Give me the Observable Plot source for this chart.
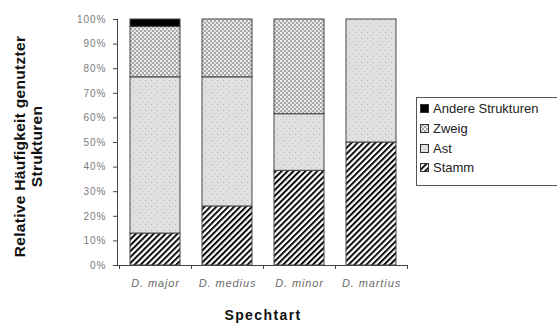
<!DOCTYPE html>
<html>
<head>
<meta charset="utf-8">
<script src="https://cdn.jsdelivr.net/npm/d3@7"></script>
<script src="https://cdn.jsdelivr.net/npm/@observablehq/plot@0.6"></script>
<style>
  html, body { margin: 0; padding: 0; background: #fff; }
  body { width: 557px; height: 323px; overflow: hidden; position: relative; font-family: "Liberation Sans", Arial, sans-serif; }
  #legend { position: absolute; left: 416px; top: 97px; width: 150px; height: 89px; border: 1px solid #555; box-sizing: border-box; background: #fff; padding-top: 1px; }
  #legend .item { display: flex; align-items: center; height: 19.7px; font-size: 13px; color: #222; padding-left: 3px; }
  #legend svg { margin-right: 4px; }
</style>
</head>
<body>
<svg width="0" height="0" style="position:absolute">
  <defs>
    <pattern id="p-stamm" patternUnits="userSpaceOnUse" width="4.2" height="4.2" patternTransform="rotate(45)">
      <rect width="4.2" height="4.2" fill="#fff"/>
      <line x1="1" y1="0" x2="1" y2="4.2" stroke="#000" stroke-width="1.9"/>
    </pattern>
    <pattern id="p-ast" patternUnits="userSpaceOnUse" width="6" height="6">
      <rect width="6" height="6" fill="#e0e0e0"/>
      <rect x="1" y="2" width="1" height="1" fill="#b5b5b5"/>
      <rect x="4" y="5" width="1" height="1" fill="#c5c5c5"/>
    </pattern>
    <pattern id="p-zweig" patternUnits="userSpaceOnUse" width="4" height="4">
      <rect width="4" height="4" fill="#a8a8a8"/>
      <rect x="0" y="0" width="2" height="2" fill="#eeeeee"/>
      <rect x="2" y="2" width="2" height="2" fill="#e4e4e4"/>
    </pattern>
  </defs>
</svg>
<div id="chart"></div>
<div id="legend"></div>
<script>
const species = ["D. major", "D. medius", "D. minor", "D. martius"];
const seriesNames = ["Stamm", "Ast", "Zweig", "Andere Strukturen"];
const stamm = [13, 24, 38.5, 50];
const ast = [63.5, 52.5, 23, 50];
const zweig = [20.5, 23.5, 38.5, 0];
const andere = [3, 0, 0, 0];
const yTicks = [0, 10, 20, 30, 40, 50, 60, 70, 80, 90, 100];
const legendOrder = ["Andere Strukturen", "Zweig", "Ast", "Stamm"];
const fills = {"Stamm": "url(#p-stamm)", "Ast": "url(#p-ast)", "Zweig": "url(#p-zweig)", "Andere Strukturen": "#000"};

const valuesBySeries = {"Stamm": stamm, "Ast": ast, "Zweig": zweig, "Andere Strukturen": andere};
const data = [];
for (const s of seriesNames) species.forEach((sp, i) => data.push({species: sp, series: s, value: valuesBySeries[s][i]}));

function axisLinesAndBoundaryTicks(index, scales, values, dimensions) {
  const {marginLeft, marginRight, marginTop, marginBottom, width, height} = dimensions;
  const x = scales.x;
  const y0 = height - marginBottom;
  const g = d3.create("svg:g").attr("stroke", "#444").attr("stroke-width", 1).attr("fill", "none");
  g.append("line").attr("x1", marginLeft + 0.5).attr("x2", marginLeft + 0.5).attr("y1", marginTop).attr("y2", y0);
  g.append("line").attr("x1", marginLeft - 4).attr("x2", width - marginRight).attr("y1", y0 + 0.5).attr("y2", y0 + 0.5);
  const step = x.step ? x.step() : (width - marginLeft - marginRight) / species.length;
  const bw = x.bandwidth ? x.bandwidth() : step * 0.69;
  const bounds = [x(species[0]) - (step - bw) / 2, ...species.map(s => x(s) + bw + (step - bw) / 2)];
  for (const b of bounds) {
    g.append("line").attr("x1", Math.round(b) + 0.5).attr("x2", Math.round(b) + 0.5).attr("y1", y0).attr("y2", y0 + 4);
  }
  return g.node();
}

const chart = Plot.plot({
  width: 557,
  height: 323,
  marginLeft: 117,
  marginRight: 149,
  marginTop: 19,
  marginBottom: 58,
  style: {fontFamily: "'Liberation Sans', Arial, sans-serif", background: "#fff"},
  x: {domain: species, paddingInner: 0.31, paddingOuter: 0.155},
  y: {domain: [0, 100]},
  color: {domain: seriesNames, range: seriesNames.map(s => fills[s])},
  marks: [
    Plot.barY(data, Plot.stackY({order: seriesNames}, {x: "species", y: "value", z: "series", fill: "series", stroke: "#444", strokeWidth: 1, filter: d => d.value > 0})),
    Plot.axisY({ticks: yTicks, tickFormat: d => d + "%", tickSize: 4, tickPadding: 7, fontSize: 10, fill: "#7a7a7a", stroke: "#444", label: null}),
    Plot.axisX({tickSize: 0, tickPadding: 14, fontSize: 11, fontStyle: "italic", fill: "#6a6a6a", label: "Spechtart", labelAnchor: "center", labelArrow: "none", labelOffset: 54}),
    Plot.text(["Relative Häufigkeit genutzter\nStrukturen"], {frameAnchor: "left", textAnchor: "middle", rotate: -90, dx: -89, dy: 4, fontSize: 15.5, fontWeight: "bold", fill: "#111", lineHeight: 1.1}),
    axisLinesAndBoundaryTicks
  ]
});
const sel = d3.select(chart);
sel.selectAll("[aria-label='x-axis label'] text, [aria-label='x-axis label']").attr("font-weight", "bold").attr("font-size", 14).attr("font-style", "normal").attr("fill", "#111").attr("letter-spacing", "1.4px");
sel.selectAll("[aria-label='y-axis tick label'] text, [aria-label='y-axis tick label']").attr("letter-spacing", "1px");
sel.selectAll("[aria-label='x-axis tick label'] text, [aria-label='x-axis tick label']").attr("letter-spacing", "0.9px");
sel.selectAll("[aria-label='text'] text, [aria-label='text']").attr("letter-spacing", "0.3px");
document.getElementById("chart").appendChild(chart);

const legend = d3.select("#legend");
for (const s of legendOrder) {
  const item = legend.append("div").attr("class", "item");
  const sw = item.append("svg").attr("width", 9).attr("height", 9);
  sw.append("rect").attr("x", 0.5).attr("y", 0.5).attr("width", 8).attr("height", 8).attr("fill", fills[s]).attr("stroke", "#333");
  item.append("span").text(s);
}
</script>
</body>
</html>
